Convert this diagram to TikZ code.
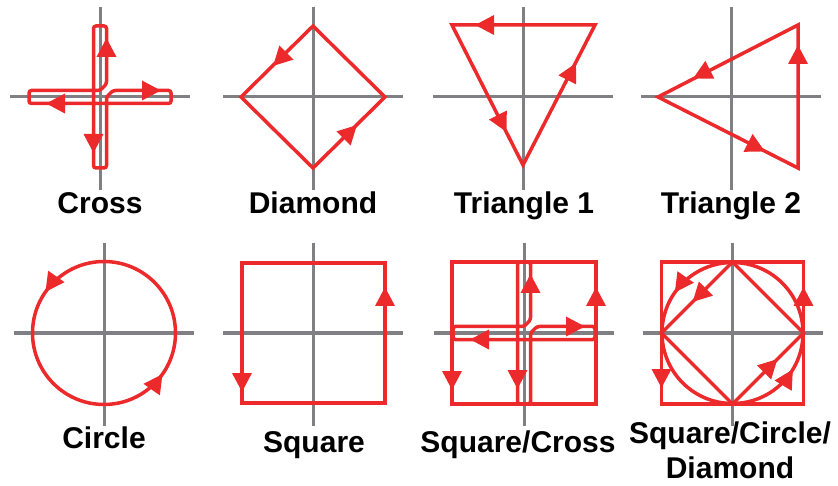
\documentclass[tikz,border=0pt]{standalone}
\usepackage{fontspec}
\setmainfont{Liberation Sans}
\usetikzlibrary{arrows.meta,calc}
\definecolor{lred}{HTML}{EC2A2C}
\definecolor{axgray}{HTML}{808084}
\tikzset{
  axisline/.style={draw=axgray, line width=3pt},
  redline/.style={draw=lred, line width=3.5pt, line join=miter},
  arrowtip/.style={draw=lred, line width=3.5pt, -{Triangle[length=19pt,width=19pt]}},
  lbl/.style={font=\fontsize{30}{35}\selectfont\bfseries, anchor=base, inner sep=0pt, align=center}
}
\newcommand\tipat[2]{\draw[arrowtip] ($(#1)+(#2:-12)$) -- (#1);}
\newcommand\panelaxes{\draw[axisline] (-90,0) -- (90,0); \draw[axisline] (0,-90) -- (0,93);}
\newcommand\crossloop{%
  \draw[redline, rounded corners=2.5pt] (6.5,-13) -- (6.5,-71) -- (-6.5,-71) -- (-6.5,71) -- (6.5,71) -- (6.5,0) -- (13,-6.5) -- (71,-6.5) -- (71,6.5) -- (-71,6.5) -- (-71,-6.5) -- (0,-6.5) -- cycle;
  \tipat{6.5,-59}{270}
  \tipat{61,-6.5}{0}
  \tipat{-54,6.5}{180}
  \tipat{-6.5,56}{90}}
\begin{document}
\begin{tikzpicture}[x=1pt,y=-1pt]
\useasboundingbox (0,0) rectangle (838,486);
% Cross
\begin{scope}[shift={(100,97)}]
  \panelaxes
  \crossloop
\end{scope}
\node[lbl] (lcross) at (100,214) {Cross};
% Diamond
\begin{scope}[shift={(313,97)}]
  \panelaxes
  \draw[redline] (0,-71) -- (-72,0) -- (0,71) -- (72,0) -- cycle;
  \tipat{-40,-31}{135}
  \tipat{44,28}{315}
\end{scope}
\node[lbl] (ldiamond) at (313,214) {Diamond};
% Triangle 1
\begin{scope}[shift={(523,97)}]
  \panelaxes
  \draw[redline] (72,-72) -- (-71,-72) -- (0,68) -- cycle;
  \tipat{-48,-72}{180}
  \tipat{-16.5,35}{63.1}
  \tipat{53,-34}{297.2}
\end{scope}
\node[lbl] (ltri1) at (524,214) {Triangle 1};
% Triangle 2
\begin{scope}[shift={(731,97)}]
  \panelaxes
  \draw[redline] (67,-72) -- (-73,0) -- (67,71) -- cycle;
  \tipat{-38,-18.5}{152.8}
  \tipat{34,54.5}{26.9}
  \tipat{67,-52}{270}
\end{scope}
\node[lbl] (ltri2) at (731,214) {Triangle 2};
% Circle
\begin{scope}[shift={(104,333)}]
  \panelaxes
  \draw[redline] (0,0) circle[radius=71.5];
  \draw[arrowtip] (227:71.5) arc[start angle=227, end angle=215, radius=71.5];
  \draw[arrowtip] (47:71.5) arc[start angle=47, end angle=35, radius=71.5];
\end{scope}
\node[lbl] (lcircle) at (104,448) {Circle};
% Square
\begin{scope}[shift={(313,333)}]
  \panelaxes
  \draw[redline] (-71,-70) rectangle (72,70);
  \tipat{72,-46}{270}
  \tipat{-71,59}{90}
\end{scope}
\node[lbl] (lsquare) at (314,452) {Square};
% Square/Cross
\begin{scope}[shift={(524,333)}]
  \panelaxes
  \draw[redline] (-72,-71) rectangle (72,71);
  \crossloop
  \tipat{72,-46}{270}
  \tipat{-72,57}{90}
\end{scope}
\node[lbl] (lsqcross) at (518,452) {Square/Cross};
% Square/Circle/Diamond
\begin{scope}[shift={(732.5,333)}]
  \panelaxes
  \draw[redline] (-71,-71) rectangle (71,71);
  \draw[redline] (0,0) circle[radius=70.5];
  \draw[redline] (0,-71) -- (-71,0) -- (0,71) -- (71,0) -- cycle;
  \draw[arrowtip] (227:70.5) arc[start angle=227, end angle=215, radius=70.5];
  \draw[arrowtip] (43:70.5) arc[start angle=43, end angle=31, radius=70.5];
  \tipat{-40,-31}{135}
  \tipat{45,26}{315}
  \tipat{-71,55}{90}
  \tipat{71,-46}{270}
\end{scope}
\node[lbl] (lscd) at (730,478) {Square/Circle/\\Diamond};
\end{tikzpicture}
\end{document}
